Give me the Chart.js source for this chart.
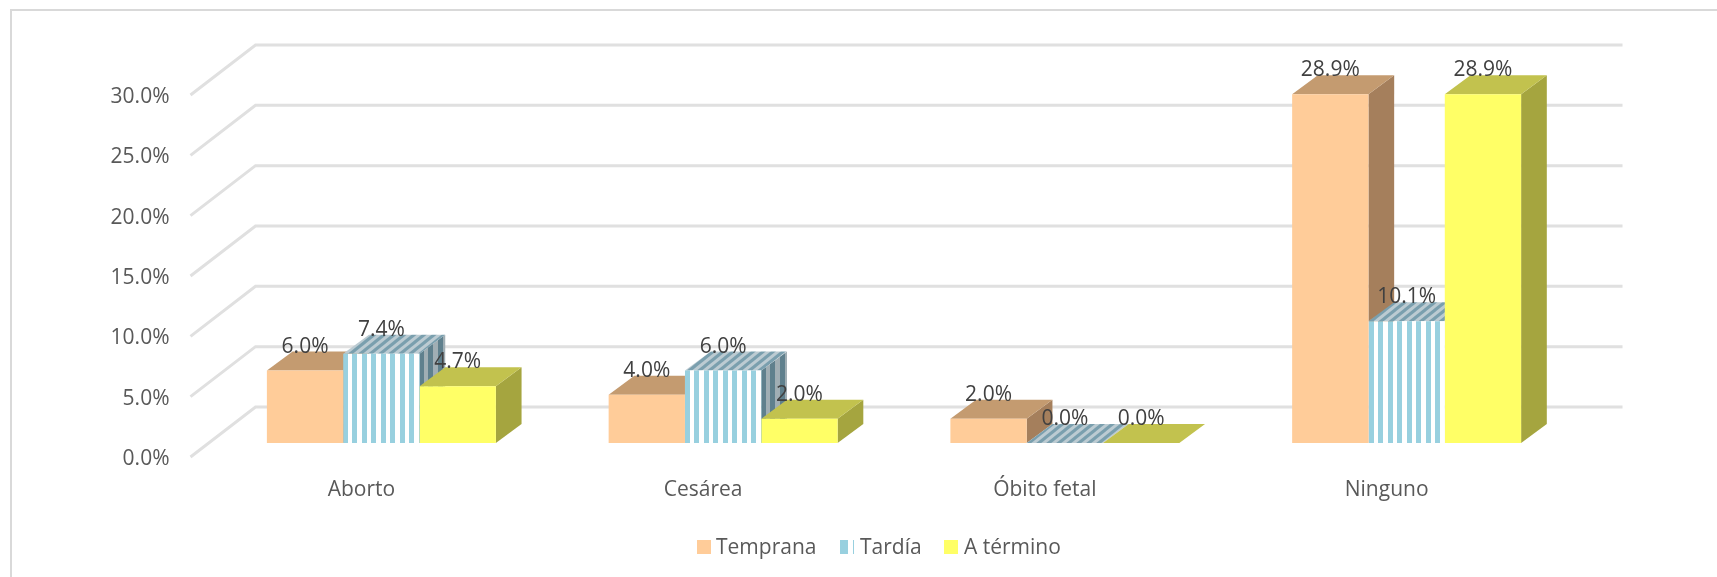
<!DOCTYPE html>
<html>
<head>
<meta charset="utf-8">
<title>Resultado obstétrico</title>
<script src="https://cdn.jsdelivr.net/npm/chart.js@4/dist/chart.umd.min.js"></script>
<style>
    html, body { margin: 0; padding: 0; background: #fff; }
    #wrap { position: absolute; left: 0; top: 0; width: 1717px; height: 577px; overflow: hidden; }
    #frame { position: absolute; left: 10px; top: 9px; width: 1707px; height: 568px;
             border-left: 2px solid #d9d9d9; border-top: 2px solid #d9d9d9; box-sizing: border-box; }
    canvas { position: absolute; left: 0; top: 0; }
</style>
</head>
<body>
<div id="wrap">
    <canvas id="myChart" width="1717" height="577"></canvas>
    <div id="frame"></div>
</div>
<script>
const categories = ['Aborto', 'Cesárea', 'Óbito fetal', 'Ninguno'];
const seriesNames = ['Temprana', 'Tardía', 'A término'];
const temprana = [6.0, 4.0, 2.0, 28.9];
const tardia = [7.4, 6.0, 0.0, 10.1];
const aTermino = [4.7, 2.0, 0.0, 28.9];

const FONT = '"Open Sans"';

// vertical stripes, stops = [color, width, color, width...]
function stripes(stops) {
    const c = document.createElement('canvas');
    c.width = stops.reduce((sum, s, i) => i % 2 ? sum + s : sum, 0);
    c.height = 4;
    const g = c.getContext('2d');
    let x = 0;
    for (let i = 0; i < stops.length; i += 2) {
        g.fillStyle = stops[i];
        g.fillRect(x, 0, stops[i + 1], 4);
        x += stops[i + 1];
    }
    return g.createPattern(c, 'repeat');
}

// diagonal stripes for the top of the striped bars
function diagonal(back, line) {
    const c = document.createElement('canvas');
    c.width = 10;
    c.height = 8;
    const g = c.getContext('2d');
    g.fillStyle = back;
    g.fillRect(0, 0, 10, 8);
    g.strokeStyle = line;
    g.lineWidth = 3.2;
    // lines run past the tile so the corners join up
    [-10, 0, 10].forEach(dx => {
        g.beginPath();
        g.moveTo(dx - 10, 16);
        g.lineTo(dx + 20, -8);
        g.stroke();
    });
    return g.createPattern(c, 'repeat');
}

const B = '#98d0df';
const tardiaFront = stripes([B, 5, '#fff', 4, B, 5, '#fff', 5]);
const tardiaSwatch = stripes([B, 8, '#fff', 5, B, 1]);

const colors = [
    { front: '#ffcc99', top: '#c49b70', side: '#a57f5c', swatch: '#ffcc99' },
    { front: tardiaFront,
      top: diagonal('#bccbd2', '#7a9fae'),
      side: stripes(['#5f808d', 5, '#a0aeb4', 4, '#5f808d', 5, '#a0aeb4', 5]),
      swatch: tardiaSwatch },
    { front: '#ffff66', top: '#c2c24e', side: '#a5a53f', swatch: '#ffff66' }
];

// bars stand inside the floor, the box goes back from there
const wall = { dx: 65, dy: 50 };
const inset = { dx: 20, dy: 14 };
const box = { dx: 25.7, dy: 19 };

const depth3d = {
    id: 'depth3d',
    beforeDatasetsDraw(chart) {
        const ctx = chart.ctx, y = chart.scales.y, area = chart.chartArea;

        // gridlines: floor/side diagonal then along the back wall
        ctx.save();
        ctx.strokeStyle = '#e0e0e0';
        ctx.lineWidth = 3;
        y.ticks.forEach(t => {
            const py = y.getPixelForValue(t.value);
            ctx.beginPath();
            ctx.moveTo(area.left, py);
            ctx.lineTo(area.left + wall.dx, py - wall.dy);
            ctx.lineTo(area.right + wall.dx, py - wall.dy);
            ctx.stroke();
        });
        ctx.restore();

        ctx.save();
        ctx.translate(inset.dx, -inset.dy);
        // side and top faces, left to right so the next bar covers the last one
        categories.forEach((c, i) => {
            chart.data.datasets.forEach((ds, d) => {
                const bar = chart.getDatasetMeta(d).data[i];
                const l = bar.x - bar.width / 2, r = bar.x + bar.width / 2;
                if (bar.base - bar.y > 0.5) {
                    ctx.fillStyle = colors[d].side;
                    ctx.beginPath();
                    ctx.moveTo(r, bar.y);
                    ctx.lineTo(r + box.dx, bar.y - box.dy);
                    ctx.lineTo(r + box.dx, bar.base - box.dy);
                    ctx.lineTo(r, bar.base);
                    ctx.closePath();
                    ctx.fill();
                }
                ctx.fillStyle = colors[d].top;
                ctx.beginPath();
                ctx.moveTo(l, bar.y);
                ctx.lineTo(l + box.dx, bar.y - box.dy);
                ctx.lineTo(r + box.dx, bar.y - box.dy);
                ctx.lineTo(r, bar.y);
                ctx.closePath();
                ctx.fill();
            });
        });
    },
    afterDatasetsDraw(chart) {
        const ctx = chart.ctx;
        ctx.restore();

        // value labels
        ctx.save();
        ctx.font = '21px ' + FONT;
        ctx.fillStyle = '#404040';
        ctx.textAlign = 'center';
        ctx.textBaseline = 'middle';
        chart.data.datasets.forEach((ds, d) => {
            chart.getDatasetMeta(d).data.forEach((bar, i) => {
                ctx.fillText(ds.data[i].toFixed(1) + '%', bar.x + inset.dx, bar.y - inset.dy - 24);
            });
        });
        ctx.restore();

        // legend
        ctx.save();
        ctx.font = '21px ' + FONT;
        ctx.fillStyle = '#595959';
        ctx.textBaseline = 'middle';
        const boxX = [697, 840, 944];
        const textX = [716, 860, 964];
        seriesNames.forEach((name, d) => {
            ctx.save();
            ctx.translate(boxX[d], 540);
            ctx.fillStyle = colors[d].swatch;
            ctx.fillRect(0, 0, 14, 14);
            ctx.restore();
            ctx.fillText(name, textX[d], 548);
        });
        ctx.restore();
    }
};

const ctx = document.getElementById('myChart').getContext('2d');
const myChart = new Chart(ctx, {
    type: 'bar',
    data: {
        labels: categories,
        datasets: [
            { label: seriesNames[0], data: temprana, backgroundColor: colors[0].front },
            { label: seriesNames[1], data: tardia, backgroundColor: colors[1].front },
            { label: seriesNames[2], data: aTermino, backgroundColor: colors[2].front }
        ]
    },
    options: {
        responsive: false,
        animation: false,
        layout: { padding: { top: 95, right: 159.5, bottom: 0, left: 0 } },
        datasets: { bar: { barPercentage: 1, categoryPercentage: 0.67, clip: false } },
        plugins: { legend: { display: false }, tooltip: { enabled: false } },
        scales: {
            x: {
                grid: { display: false, drawTicks: false },
                border: { display: false },
                ticks: { color: '#595959', font: { family: FONT, size: 21 }, padding: 20, maxRotation: 0 },
                afterFit(scale) { scale.height = 120; }
            },
            y: {
                min: 0,
                max: 30,
                grid: { display: false, drawTicks: false },
                border: { display: false },
                ticks: {
                    stepSize: 5,
                    color: '#595959',
                    font: { family: FONT, size: 21 },
                    padding: 21,
                    labelOffset: 2,
                    callback: v => v.toFixed(1) + '%'
                },
                afterFit(scale) { scale.width = 190.5; }
            }
        }
    },
    plugins: [depth3d]
});
</script>
</body>
</html>
